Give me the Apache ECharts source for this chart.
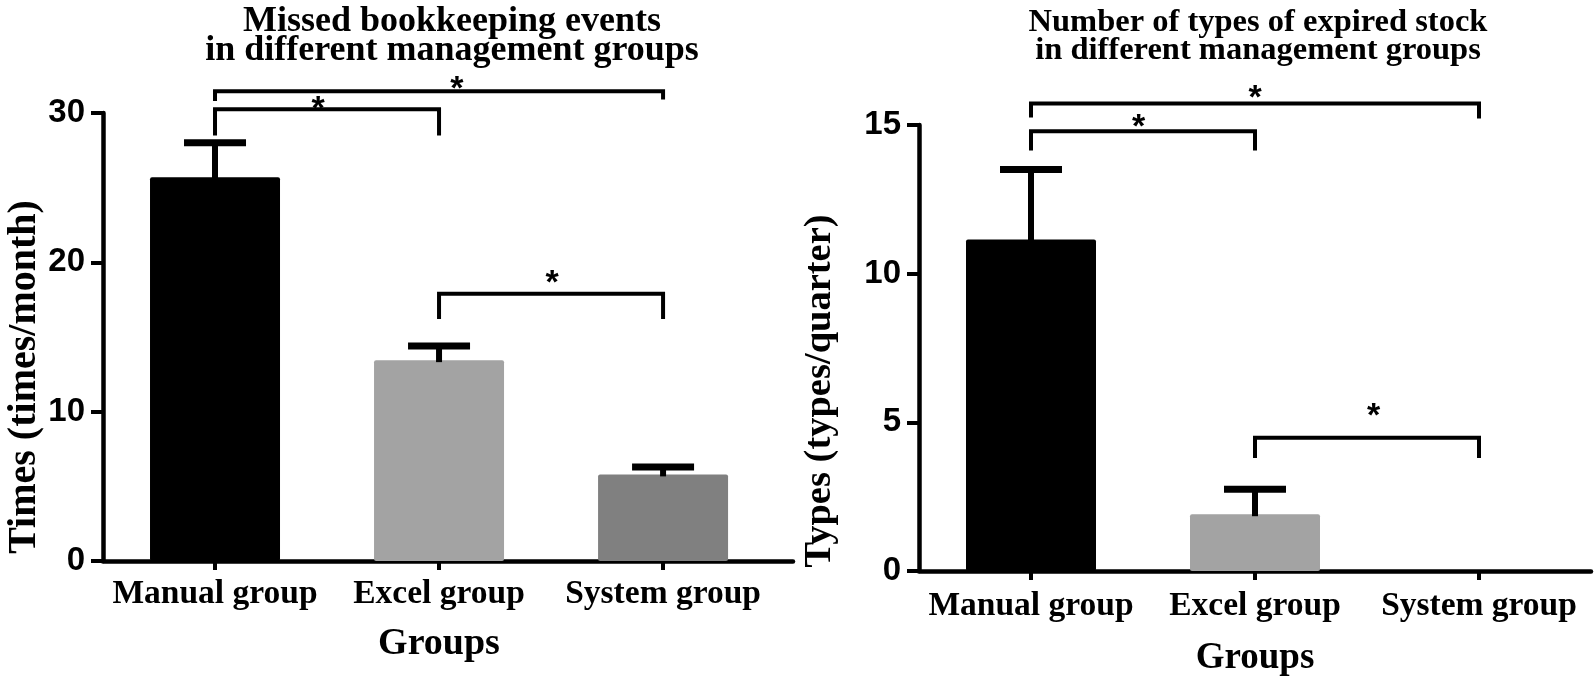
<!DOCTYPE html>
<html>
<head>
<meta charset="utf-8">
<script src="https://cdn.jsdelivr.net/npm/echarts@6/dist/echarts.min.js"></script>
<style>
html,body{margin:0;padding:0;background:#fff;}
#chart{width:1594px;height:682px;}
</style>
</head>
<body>
<div id="chart"></div>
<script>
// ---- data ----
const categories = ['Manual group', 'Excel group', 'System group'];
const categoryIndex = [0, 1, 2];

const missedMean = [25.7, 13.45, 5.8];
const missedUpper = [28.0, 14.4, 6.3];
// brackets: [from, to, lineY, legBottomFrom, legBottomTo, starPos(0..1), starY]
const missedBrackets = [
  [0, 1, 30.25, 28.5, 28.5, 0.46, 30.6],
  [0, 2, 31.45, 30.8, 30.9, 0.54, 32.0],
  [1, 2, 17.9, 16.2, 16.2, 0.505, 19.0]
];
const missedTicks = { min: 0, max: 30, interval: 10 };

const expiredMean = [11.15, 1.91, 0];
const expiredUpper = [13.5, 2.75, 0];
const expiredBrackets = [
  [0, 1, 14.79, 14.14, 14.14, 0.48, 15.1],
  [0, 2, 15.72, 15.25, 15.22, 0.50, 16.09],
  [1, 2, 4.48, 3.8, 3.8, 0.53, 5.4]
];
const expiredTicks = { min: 0, max: 15, interval: 5 };

const barColors = ['#000000', '#a3a3a3', '#808080'];

// ---- chart ----
const SERIF = '"Liberation Serif","Times New Roman",serif';
const SANS = '"Liberation Sans",Arial,sans-serif';

function errRender(params, api) {
  const x = api.value(0);
  if (api.value(2) <= api.value(1)) return null;
  const p0 = api.coord([x, api.value(1)]);
  const p1 = api.coord([x, api.value(2)]);
  const half = 31;
  return {
    type: 'group',
    children: [
      { type: 'line', shape: { x1: p0[0], y1: p0[1] + 2, x2: p1[0], y2: p1[1] }, style: { stroke: '#000', lineWidth: 6 } },
      { type: 'line', shape: { x1: p1[0] - half, y1: p1[1], x2: p1[0] + half, y2: p1[1] }, style: { stroke: '#000', lineWidth: 7 } }
    ]
  };
}

function bracketRender(params, api) {
  const a = api.value(0), b = api.value(1);
  const yl = api.value(2), ya = api.value(3), yb = api.value(4);
  const t = api.value(5), ys = api.value(6);
  const pa = api.coord([a, ya]);
  const pal = api.coord([a, yl]);
  const pbl = api.coord([b, yl]);
  const pb = api.coord([b, yb]);
  const ps = api.coord([a, ys]);
  const sx = pal[0] + (pbl[0] - pal[0]) * t;
  return {
    type: 'group',
    children: [
      { type: 'polyline', shape: { points: [pa, pal, pbl, pb] }, style: { stroke: '#000', lineWidth: 4, fill: null, lineJoin: 'miter' } },
      { type: 'text', x: sx, y: ps[1] + 6, style: { text: '*', font: 'bold 34px ' + SANS, fill: '#000', align: 'center', verticalAlign: 'middle' } }
    ]
  };
}

function makeBarData(vals) {
  return vals.map((v, i) => ({ value: [categoryIndex[i], v], itemStyle: { color: barColors[i] } }));
}

const grids = [
  { left: 103, top: 113, width: 690, height: 448 },
  { left: 919, top: 125, width: 672, height: 448 }
];

function xAxisCfg(gi, xmax, labelMargin, nameGap, nameShift, nameSize) {
  return {
    type: 'value', gridIndex: gi, min: -0.5, max: xmax,
    splitLine: { show: false },
    axisLine: { show: true, onZero: false, lineStyle: { color: '#000', width: 4.5 } },
    axisTick: { show: true, customValues: categoryIndex, length: 9, lineStyle: { color: '#000', width: 4 } },
    axisLabel: { show: true, customValues: categoryIndex, formatter: v => categories[Math.round(v)] || '',
      color: '#000', fontFamily: SERIF, fontWeight: 'bold', fontSize: 33.5, margin: labelMargin },
    name: 'Groups', nameLocation: 'middle', nameGap: nameGap,
    nameTextStyle: { color: '#000', fontFamily: SERIF, fontWeight: 'bold', fontSize: nameSize,
      padding: nameShift > 0 ? [0, 0, 0, nameShift * 2] : [0, -nameShift * 2, 0, 0] }
  };
}
function yAxisCfg(gi, t, name, nameGap, shiftDown, nameSize) {
  return {
    type: 'value', gridIndex: gi, min: t.min, max: t.max, interval: t.interval,
    splitLine: { show: false },
    axisLine: { show: true, onZero: false, lineStyle: { color: '#000', width: 4.5 } },
    axisTick: { show: true, length: 12, lineStyle: { color: '#000', width: 4 } },
    axisLabel: { color: '#000', fontFamily: SANS, fontWeight: 'bold', fontSize: 33, margin: 18 },
    name: name, nameLocation: 'middle', nameGap: nameGap, nameRotate: 90,
    nameTextStyle: { color: '#000', fontFamily: SERIF, fontWeight: 'bold', fontSize: nameSize,
      padding: [0, shiftDown * 2, 0, 0] }
  };
}

const chart = echarts.init(document.getElementById('chart'), null, { renderer: 'canvas' });
chart.setOption({
  backgroundColor: '#fff',
  animation: false,
  title: [
    { text: 'Missed bookkeeping events\nin different management groups', left: 447, top: 2, textAlign: 'center',
      textStyle: { color: '#000', fontFamily: SERIF, fontWeight: 'bold', fontSize: 36, lineHeight: 29 } },
    { text: 'Number of types of expired stock\nin different management groups', left: 1253, top: 4, textAlign: 'center',
      textStyle: { color: '#000', fontFamily: SERIF, fontWeight: 'bold', fontSize: 32.5, lineHeight: 28 } }
  ],
  grid: grids,
  xAxis: [xAxisCfg(0, 2.58, 16, 64, -9, 38), xAxisCfg(1, 2.5, 18, 69, 0, 37)],
  yAxis: [yAxisCfg(0, missedTicks, 'Times (times/month)', 58, 40, 40), yAxisCfg(1, expiredTicks, 'Types (types/quarter)', 79, 43, 38.5)],
  series: [
    { type: 'bar', xAxisIndex: 0, yAxisIndex: 0, data: makeBarData(missedMean), barWidth: 130, itemStyle: { borderRadius: 2 }, z: 2 },
    { type: 'custom', xAxisIndex: 0, yAxisIndex: 0, renderItem: errRender, z: 3,
      data: missedMean.map((m, i) => [categoryIndex[i], m, missedUpper[i]]) },
    { type: 'custom', xAxisIndex: 0, yAxisIndex: 0, renderItem: bracketRender, z: 4, clip: false, data: missedBrackets },
    { type: 'bar', xAxisIndex: 1, yAxisIndex: 1, data: makeBarData(expiredMean), barWidth: 130, itemStyle: { borderRadius: 2 }, z: 2 },
    { type: 'custom', xAxisIndex: 1, yAxisIndex: 1, renderItem: errRender, z: 3,
      data: expiredMean.map((m, i) => [categoryIndex[i], m, expiredUpper[i]]) },
    { type: 'custom', xAxisIndex: 1, yAxisIndex: 1, renderItem: bracketRender, z: 4, clip: false, data: expiredBrackets }
  ]
});
</script>
</body>
</html>
